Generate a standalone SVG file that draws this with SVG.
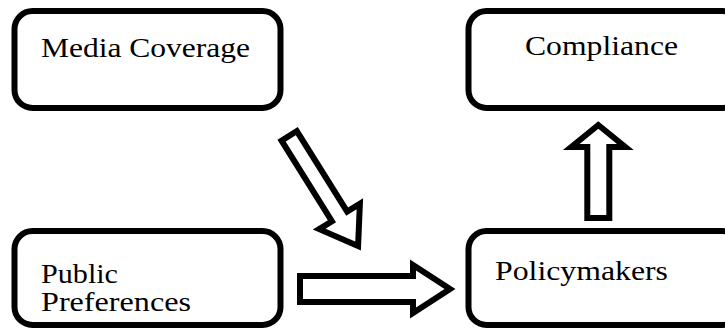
<svg xmlns="http://www.w3.org/2000/svg" width="725" height="333" viewBox="0 0 725 333">
<style>
.box{fill:#fff;stroke:#000;stroke-width:6}
text{font-family:'Liberation Serif',Tinos,'Times New Roman',Times,serif;font-size:28px;fill:#000}
.arr{fill:#fff;stroke:#000;stroke-width:6;stroke-linejoin:miter;stroke-miterlimit:10}
</style>
<rect width="725" height="333" fill="#fff"/>
<g id="media">
<rect class="box" x="14.5" y="11" width="266" height="97" rx="18"/>
<text x="41" y="57" font-family="Liberation Serif, serif" textLength="209" lengthAdjust="spacingAndGlyphs">Media Coverage</text>
</g>
<g id="compliance">
<rect class="box" x="468.5" y="11" width="272" height="97" rx="18"/>
<text x="525" y="55" font-family="Liberation Serif, serif" textLength="153" lengthAdjust="spacingAndGlyphs">Compliance</text>
</g>
<g id="public">
<rect class="box" x="14.5" y="231" width="266" height="94" rx="18"/>
<text x="41" y="283" font-family="Liberation Serif, serif" textLength="77" lengthAdjust="spacingAndGlyphs">Public</text>
<text x="41" y="311" font-family="Liberation Serif, serif" textLength="150" lengthAdjust="spacingAndGlyphs">Preferences</text>
</g>
<g id="policymakers">
<rect class="box" x="468.5" y="231" width="272" height="94" rx="18"/>
<text x="495" y="280" font-family="Liberation Serif, serif" textLength="173" lengthAdjust="spacingAndGlyphs">Policymakers</text>
</g>
<g id="connectors">
<polygon class="arr" transform="translate(287.6,133.3) rotate(58)" points="3,-9 98,-9 98,-24 133,0 98,24 98,9 3,9"/>
<polygon class="arr" points="300,276 413,276 413,265 450,289 413,313 413,302 300,302"/>
<polygon class="arr" points="587.3,218 587.3,147 571.3,147 598.3,125 625.3,147 609.3,147 609.3,218"/>
</g>
</svg>
